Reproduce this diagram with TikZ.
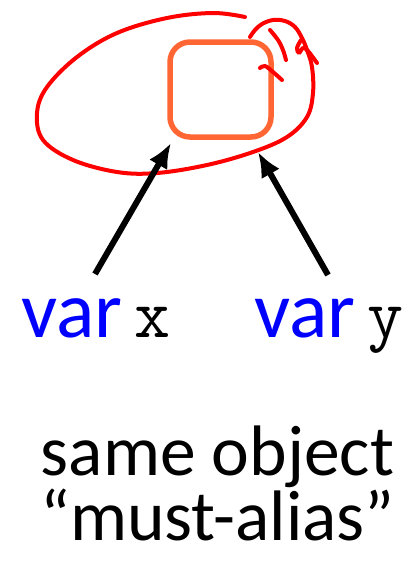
\documentclass[tikz,border=0pt]{standalone}
\usepackage{fontspec}
\setmainfont{Carlito}
\usetikzlibrary{arrows.meta}
\definecolor{boxorange}{RGB}{255,102,51}
\definecolor{varblue}{RGB}{0,0,255}
\newcommand{\codetxt}[1]{{\fontsize{70}{70}\selectfont\ttfamily #1}}
\tikzset{
  scribble/.style={draw=red, line width=4pt, line cap=round, line join=round},
  objbox/.style={draw=boxorange, line width=5.5pt, rounded corners=20pt},
  ptr/.style={line width=6pt, -{Latex[length=25pt,width=21pt]}},
  varlbl/.style={inner sep=0pt, font=\fontsize{80}{80}\selectfont},
  txtlbl/.style={inner sep=0pt, font=\fontsize{71.5}{71.5}\selectfont},
}
\begin{document}
\begin{tikzpicture}[x=1pt,y=-1pt]
\useasboundingbox (0,0) rectangle (402,582);
% object box
\draw[objbox] (170,42) rectangle (271,137);
% red scribble circle
\draw[scribble] plot[smooth, tension=0.6] coordinates {
  (245,17) (213,13) (167,18) (117,33) (77,57) (47,87) (37,113) (43,140)
  (73,160) (117,172) (157,173) (207,165) (253,152) (287,137) (307,117)
  (313,93) (312,67) (307,50) (302,38) (295,27) (285,21) (273,20) (262,24) (255,30) (250,37)};
\draw[scribble] plot[smooth, tension=0.6] coordinates {(270,30) (278,40) (283,50) (286,60)};
\draw[scribble] plot[smooth, tension=0.6] coordinates {(260,68) (265,66) (273,72) (282,80)};
\draw[scribble] plot[smooth, tension=0.6] coordinates {(301,40) (297,48) (299,53) (303,48) (308,51) (317,63)};
% labels
\node[varlbl, anchor=base west] (vx) at (21,337) {\textcolor{varblue}{var}\hspace{12pt}\codetxt{x}};
\node[varlbl, anchor=base west] (vy) at (254,337) {\textcolor{varblue}{var}\hspace{12pt}\codetxt{y}};
\node[txtlbl, anchor=base] (t1) at (217.5,475) {same object};
\node[txtlbl, anchor=base] (t2) at (217.5,540) {“must-alias”};
% arrows
\coordinate (xtail) at (95,274);
\coordinate (xhead) at (171,143);
\coordinate (ytail) at (328,275);
\coordinate (yhead) at (258,152);
\draw[ptr] (xtail) -- (xhead);
\draw[ptr] (ytail) -- (yhead);
\end{tikzpicture}
\end{document}
